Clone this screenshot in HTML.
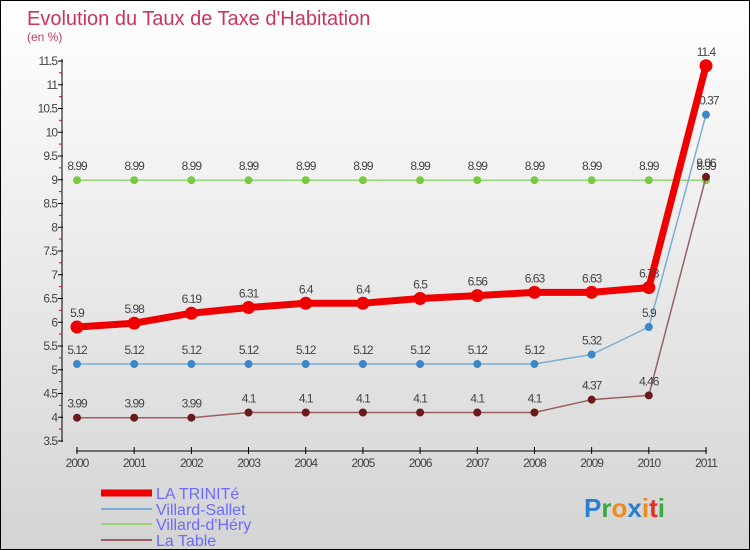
<!DOCTYPE html>
<html><head><meta charset="utf-8"><style>
body{margin:0}
#wrap{position:relative;width:748px;height:548px;border:1px solid #000;background:linear-gradient(#ffffff,#d4d4d4);overflow:hidden;font-family:"Liberation Sans",sans-serif}
</style></head><body>
<div id="wrap">
<svg id="svg" width="748" height="548" xmlns="http://www.w3.org/2000/svg">
<text x="26" y="24" font-size="20" fill="#c8365f">Evolution du Taux de Taxe d'Habitation</text>
<text x="26" y="40" font-size="12" fill="#c8365f">(en %)</text>
<g id="axes"></g><g id="series"></g>
<g>
<line x1="100" y1="492" x2="151" y2="492" stroke="#ee0000" stroke-width="7"/>
<text x="155" y="498" font-size="16" fill="#6b6bff">LA TRINITé</text>
<line x1="100" y1="508" x2="151" y2="508" stroke="#7aaed6" stroke-width="2"/>
<text x="155" y="514" font-size="16" fill="#6b6bff">Villard-Sallet</text>
<line x1="100" y1="523" x2="151" y2="523" stroke="#99d47a" stroke-width="2"/>
<text x="155" y="529" font-size="16" fill="#6b6bff">Villard-d'Héry</text>
<line x1="100" y1="539" x2="151" y2="539" stroke="#9a6060" stroke-width="2"/>
<text x="155" y="545" font-size="16" fill="#6b6bff">La Table</text>
</g>
<text x="583" y="516" font-size="26" font-weight="bold"><tspan fill="#2a7fd0">P</tspan><tspan fill="#3aa845">r</tspan><tspan fill="#f08a1c">o</tspan><tspan fill="#2a7fd0">x</tspan><tspan fill="#f08a1c">i</tspan><tspan fill="#e03020">t</tspan><tspan fill="#3aa845">i</tspan></text>
</svg>
</div>
<script>
const years=[2000,2001,2002,2003,2004,2005,2006,2007,2008,2009,2010,2011];
const laTrinite=[5.9,5.98,6.19,6.31,6.4,6.4,6.5,6.56,6.63,6.63,6.73,11.4];
const villardSallet=[5.12,5.12,5.12,5.12,5.12,5.12,5.12,5.12,5.12,5.32,5.9,10.37];
const villardDhery=[8.99,8.99,8.99,8.99,8.99,8.99,8.99,8.99,8.99,8.99,8.99,8.99];
const laTable=[3.99,3.99,3.99,4.1,4.1,4.1,4.1,4.1,4.1,4.37,4.46,9.06];
const yTicks=[3.5,4,4.5,5,5.5,6,6.5,7,7.5,8,8.5,9,9.5,10,10.5,11,11.5];
const NS="http://www.w3.org/2000/svg";
const xs=i=>76+i*(705-76)/(years.length-1);
const ys=v=>440-(v-3.5)*47.5;
function mk(tag,attrs,parent){const e=document.createElementNS(NS,tag);for(const k in attrs)e.setAttribute(k,attrs[k]);parent.appendChild(e);return e;}
const axes=document.getElementById('axes'),ser=document.getElementById('series');
let a=mk('line',{x1:61,y1:58,x2:61,y2:441,stroke:'#000'},axes);


a=mk('line',{x1:75,y1:450,x2:706,y2:450,stroke:'#000'},axes);


yTicks.forEach((v,i)=>{const y=ys(v);
 mk('line',{x1:57,y1:y,x2:62,y2:y,stroke:'#000'},axes);
 if(i<yTicks.length-1)mk('line',{x1:58,y1:y-11.9,x2:61,y2:y-11.9,stroke:'#e00'},axes);
 const t=mk('text',{x:56,y:y+4,'font-size':12,fill:'#444','text-anchor':'end','letter-spacing':'-1'},axes);
 t.textContent=String(v);
 
 
});
years.forEach((yr,i)=>{const x=xs(i);
 mk('line',{x1:x,y1:446,x2:x,y2:453,stroke:'#000'},axes);
 const t=mk('text',{x:x,y:466,'font-size':12,fill:'#444','text-anchor':'middle','letter-spacing':'-1'},axes);
 t.textContent=yr;
 
 
});
function draw(data,name,color,mcolor,w,r){
 const g=mk('g',{},ser);
 
 
 const p=mk('polyline',{points:data.map((v,i)=>xs(i)+','+ys(v)).join(' '),fill:'none',stroke:color,'stroke-width':w,'stroke-linejoin':'round'},g);
 
 
 data.forEach((v,i)=>{
  const c=mk('circle',{cx:xs(i),cy:ys(v),r:r,fill:mcolor},g);
  
  
  const t=mk('text',{x:xs(i),y:ys(v)-10,'font-size':12,fill:'#444','text-anchor':'middle','letter-spacing':'-1'},g);
  t.textContent=String(v);
  
  
 });
}
draw(villardDhery,'villard-dhery','#99d47a','#7ac943',1.5,4);
draw(laTable,'la-table','#9a6060','#6b1a1a',1.5,4);
draw(villardSallet,'villard-sallet','#7aaed6','#3b87c8',1.5,4);
draw(laTrinite,'la-trinite','#ee0000','#ee0000',7,6.5);
</script>
</body></html>
